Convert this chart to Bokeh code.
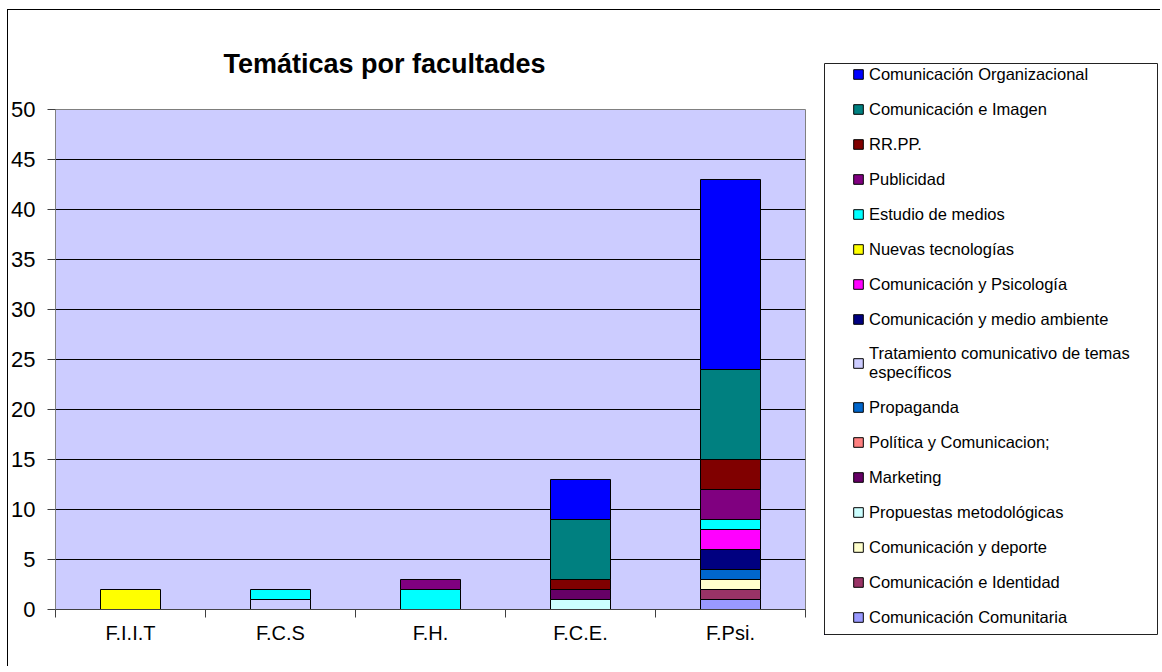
import numpy as np
from bokeh.plotting import figure
from bokeh.layouts import row
from bokeh.models import Legend, LegendItem, FixedTicker, Range1d
from bokeh.embed import file_html
from bokeh.resources import INLINE

facultades = ["F.I.I.T", "F.C.S", "F.H.", "F.C.E.", "F.Psi."]

# series, bottom of the stack first
temas = [
    "Comunicación Comunitaria",
    "Comunicación e Identidad",
    "Comunicación y deporte",
    "Propuestas metodológicas",
    "Marketing",
    "Política y Comunicacion;",
    "Propaganda",
    "Tratamiento comunicativo de temas\nespecíficos",
    "Comunicación y medio ambiente",
    "Comunicación y Psicología",
    "Nuevas tecnologías",
    "Estudio de medios",
    "Publicidad",
    "RR.PP.",
    "Comunicación e Imagen",
    "Comunicación Organizacional",
]
colores = [
    "#9999ff", "#993366", "#ffffcc", "#ccffff", "#660066", "#ff8080",
    "#0066cc", "#ccccff", "#000080", "#ff00ff", "#ffff00", "#00ffff",
    "#800080", "#800000", "#008080", "#0000ff",
]

comunitaria = [0, 0, 0, 0, 1]
identidad = [0, 0, 0, 0, 1]
deporte = [0, 0, 0, 0, 1]
propuestas = [0, 0, 0, 1, 0]
marketing = [0, 0, 0, 1, 0]
politica = [0, 0, 0, 0, 0]
propaganda = [0, 0, 0, 0, 1]
tratamiento = [0, 1, 0, 0, 0]
medio_ambiente = [0, 0, 0, 0, 2]
psicologia = [0, 0, 0, 0, 2]
nuevas_tec = [2, 0, 0, 0, 0]
estudio_medios = [0, 1, 2, 0, 1]
publicidad = [0, 0, 1, 0, 3]
rrpp = [0, 0, 0, 1, 3]
imagen = [0, 0, 0, 6, 9]
organizacional = [0, 0, 0, 4, 19]

series = [comunitaria, identidad, deporte, propuestas, marketing, politica,
          propaganda, tratamiento, medio_ambiente, psicologia, nuevas_tec,
          estudio_medios, publicidad, rrpp, imagen, organizacional]

FONT = "Liberation Sans"
H = 656

p = figure(width=812, height=H, x_range=Range1d(0, len(facultades)),
           y_range=Range1d(0, 50), output_backend="svg", toolbar_location=None,
           min_border_left=46, min_border_right=15, min_border_top=99,
           min_border_bottom=57, title="Temáticas por facultades")
p.frame_align = False

p.background_fill_color = "#ccccff"
p.border_fill_color = "white"
p.outline_line_color = "#808080"

p.title.text_font = FONT
p.title.text_font_size = "27px"
p.title.text_font_style = "bold"
p.title.text_color = "black"
p.title.align = "left"
p.title.offset = 168
p.title.standoff = 62

centers = np.arange(len(facultades)) + 0.5

# legend panel (its own small figure, so the legend box can sit beside the chart)
p2 = figure(width=340, height=H, x_range=Range1d(100, 101), y_range=Range1d(100, 101),
            x_axis_type=None, y_axis_type=None, output_backend="svg",
            toolbar_location=None, min_border_left=4, min_border_right=3,
            min_border_top=53, min_border_bottom=32)
p2.frame_align = False
p2.grid.visible = False
p2.outline_line_color = "#222222"
p2.outline_line_width = 1
p2.background_fill_color = "white"
p2.border_fill_color = "white"

bottom = np.zeros(len(facultades))
items = []
for name, vals, col in zip(temas, series, colores):
    v = np.array(vals, dtype=float)
    mask = v > 0
    p.vbar(x=centers[mask], bottom=bottom[mask], top=(bottom + v)[mask],
           width=0.4, fill_color=col, line_color="black", line_width=1)
    # same series in the legend panel (outside its visible range) -> legend swatch
    r = p2.vbar(x=centers, bottom=bottom, top=bottom + v, width=0.4,
                fill_color=col, line_color="black", line_width=1)
    items.append(LegendItem(label=name, renderers=[r]))
    bottom = bottom + v
items = items[::-1]

# axes
p.xaxis.ticker = FixedTicker(ticks=list(centers),
                             minor_ticks=list(range(len(facultades) + 1)))
p.xaxis.major_label_overrides = {float(c): f for c, f in zip(centers, facultades)}
p.xaxis.major_tick_out = 0
p.xaxis.major_tick_in = 0
p.xaxis.minor_tick_out = 8
p.xaxis.minor_tick_in = 0
p.xaxis.major_label_standoff = 4
p.xaxis.axis_line_color = "#404040"
p.xaxis.minor_tick_line_color = "#404040"
p.xaxis.major_label_text_font_size = "20px"

p.yaxis.ticker = FixedTicker(ticks=list(range(0, 51, 5)))
p.yaxis.major_tick_out = 8
p.yaxis.major_tick_in = 0
p.yaxis.minor_tick_line_color = None
p.yaxis.major_label_standoff = 12
p.yaxis.axis_line_color = "#808080"
p.yaxis.major_tick_line_color = "#404040"
p.yaxis.major_label_text_font_size = "22px"

for ax in (p.xaxis, p.yaxis):
    ax.major_label_text_font = FONT
    ax.major_label_text_color = "black"

p.xgrid.visible = False
p.ygrid.grid_line_color = "black"
p.ygrid.grid_line_width = 1

legend = Legend(items=items, location=(28, 7), padding=0, spacing=15,
                label_height=20, glyph_height=12, glyph_width=12,
                label_standoff=5, label_text_font=FONT,
                label_text_font_size="16.5px", label_text_baseline="middle",
                label_text_color="black",
                border_line_alpha=0, background_fill_alpha=0, margin=0)
p2.add_layout(legend)

layout = row(p, p2, styles={"border-left": "1px solid black",
                            "border-top": "1px solid black",
                            "margin-left": "7px", "margin-top": "9px"})

open("out.html", "w").write(file_html(layout, INLINE))
